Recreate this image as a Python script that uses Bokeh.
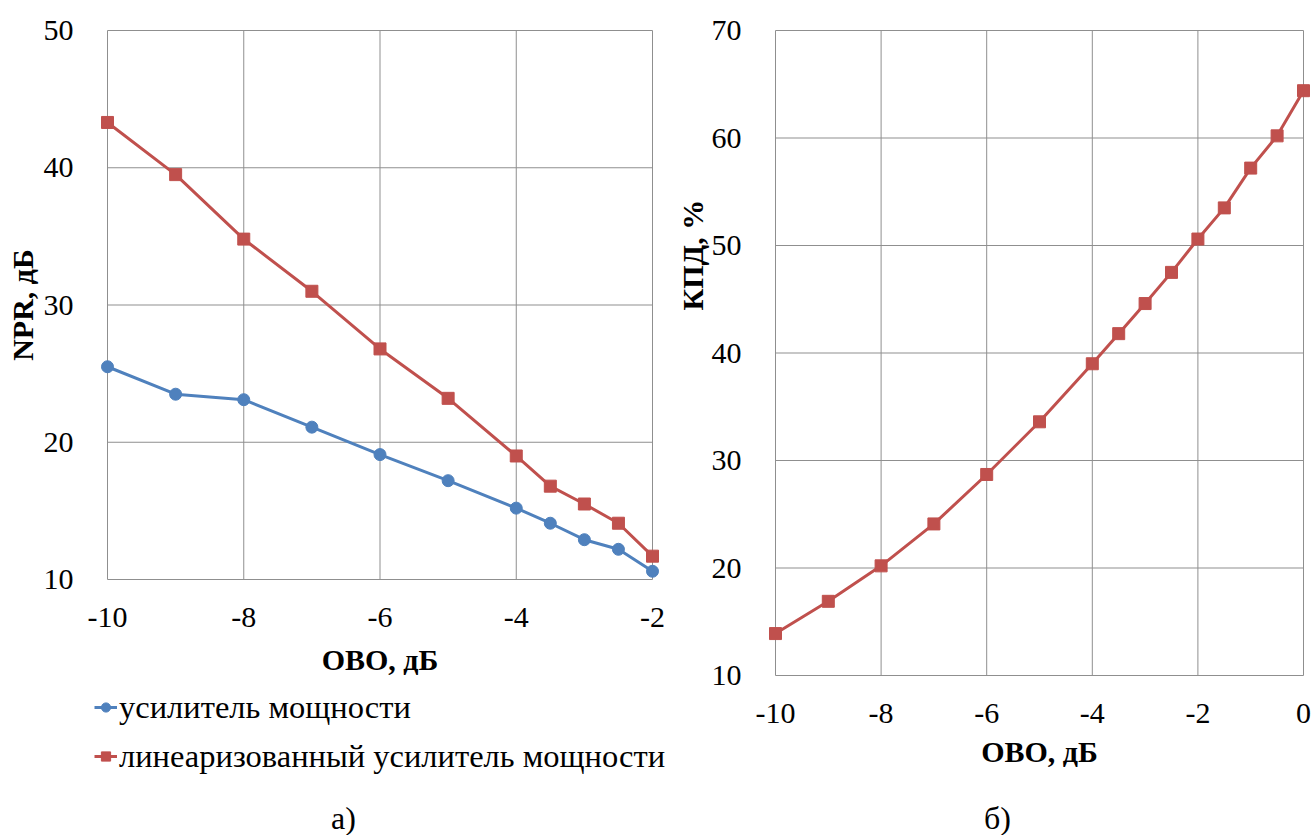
from bokeh.plotting import figure
from bokeh.models import Legend, LegendItem, Range1d, FixedTicker, Title, Label
from bokeh.layouts import row, column
from bokeh.embed import file_html
from bokeh.resources import INLINE

# ---- data ----
obo_a = [-10, -9, -8, -7, -6, -5, -4, -3.5, -3, -2.5, -2]
npr_pa = [25.5, 23.5, 23.1, 21.1, 19.1, 17.2, 15.2, 14.1, 12.9, 12.2, 10.6]
npr_lin = [43.3, 39.5, 34.8, 31.0, 26.8, 23.2, 19.0, 16.8, 15.5, 14.1, 11.7]
obo_b = [-10, -9, -8, -7, -6, -5, -4, -3.5, -3, -2.5, -2, -1.5, -1, -0.5, 0]
kpd = [13.9, 16.9, 20.2, 24.1, 28.7, 33.6, 39.0, 41.8, 44.6, 47.5, 50.6, 53.5, 57.2, 60.2, 64.4]

x_ticks_a = [-10, -8, -6, -4, -2]
y_ticks_a = [10, 20, 30, 40, 50]
x_ticks_b = [-10, -8, -6, -4, -2, 0]
y_ticks_b = [10, 20, 30, 40, 50, 60, 70]

label_pa = "усилитель мощности"
label_lin = "линеаризованный усилитель мощности"
x_title = "ОВО, дБ"
y_title_a = "NPR, дБ"
y_title_b = "КПД, %"
caption_a = "а)"
caption_b = "б)"

BLUE = "#4F81BD"
RED = "#C0504D"
GRID = "#8f8f8f"
FONT = "Liberation Serif"
PAD = 8  # px of free frame around the plot area so edge markers are not clipped


def make_fig(xt, yt, plot_w, plot_h, left, right, top, bottom):
    x0, x1 = xt[0], xt[-1]
    y0, y1 = yt[0], yt[-1]
    px = PAD * (x1 - x0) / plot_w
    py = PAD * (y1 - y0) / plot_h
    p = figure(frame_width=plot_w + 2 * PAD, frame_height=plot_h + 2 * PAD,
               output_backend="svg", toolbar_location=None,
               x_range=Range1d(x0 - px, x1 + px), y_range=Range1d(y0 - py, y1 + py),
               min_border_left=left - PAD, min_border_right=right - PAD,
               min_border_top=top - PAD, min_border_bottom=bottom)
    p.xaxis.ticker = FixedTicker(ticks=xt)
    p.yaxis.ticker = FixedTicker(ticks=yt)
    p.xaxis.major_label_overrides = {t: str(t) for t in xt}
    for ax in (p.xaxis[0], p.yaxis[0]):
        ax.major_label_text_font = FONT
        ax.major_label_text_font_size = "30px"
        ax.major_label_text_color = "black"
        ax.axis_label_text_font = FONT
        ax.axis_label_text_font_size = "30px"
        ax.axis_label_text_font_style = "bold"
        ax.axis_label_text_color = "black"
        ax.major_tick_line_color = None
        ax.minor_tick_line_color = None
        ax.axis_line_color = None
    p.xaxis.axis_label = x_title
    p.xaxis.major_label_standoff = 22 - PAD
    p.yaxis.major_label_standoff = 28 - PAD
    p.grid.visible = False
    p.outline_line_color = None
    p.background_fill_color = "white"
    p.border_fill_color = "white"
    # plot-area grid (end ticks give the plot-area border), drawn from the tick lists
    p.segment(x0=xt, x1=xt, y0=[y0] * len(xt), y1=[y1] * len(xt),
              line_color=GRID, line_width=1, level="underlay")
    p.segment(x0=[x0] * len(yt), x1=[x1] * len(yt), y0=yt, y1=yt,
              line_color=GRID, line_width=1, level="underlay")
    return p


def blank(w, h):
    p = figure(width=w, height=h, output_backend="svg", toolbar_location=None,
               x_axis_type=None, y_axis_type=None, min_border=0,
               min_border_left=0, min_border_right=0, min_border_top=0, min_border_bottom=0,
               x_range=Range1d(0, 1), y_range=Range1d(0, 1))
    p.outline_line_color = None
    p.grid.visible = False
    return p


# ---- left chart (a) ----
pa = make_fig(x_ticks_a, y_ticks_a, 545, 549, left=107, right=20, top=30, bottom=100)
pa.yaxis.axis_label = y_title_a
pa.yaxis.axis_label_standoff = 2
pa.xaxis.axis_label_standoff = 13

pa.line(obo_a, npr_pa, line_color=BLUE, line_width=3)
pa.scatter(obo_a, npr_pa, marker="circle", size=12, fill_color=BLUE, line_color=BLUE)
pa.line(obo_a, npr_lin, line_color=RED, line_width=3)
pa.scatter(obo_a, npr_lin, marker="square", size=12, fill_color=RED, line_color=RED)

# legend + caption strip under chart (a); its sample glyphs sit outside its view range
pleg = blank(672, 148)
g1 = pleg.line(x=[2, 3], y=[2, 3], line_color=BLUE, line_width=3)
m1 = pleg.scatter(x=[2], y=[2], marker="circle", size=12, fill_color=BLUE, line_color=BLUE)
g2 = pleg.line(x=[2, 3], y=[2, 3], line_color=RED, line_width=3)
m2 = pleg.scatter(x=[2], y=[2], marker="square", size=12, fill_color=RED, line_color=RED)
leg = Legend(items=[LegendItem(label=label_pa, renderers=[g1, m1]),
                    LegendItem(label=label_lin, renderers=[g2, m2])],
             location=(94, 60), orientation="vertical",
             label_text_font=FONT, label_text_font_size="32.5px", label_text_color="black",
             glyph_width=23, glyph_height=38, label_height=38, label_standoff=2,
             spacing=11, padding=0, margin=0, border_line_color=None,
             background_fill_alpha=0)
pleg.add_layout(leg)
pleg.add_layout(Label(x=343, y=18, x_units="screen", y_units="screen", text=caption_a,
                      text_font=FONT, text_font_size="32px", text_align="center",
                      text_baseline="middle", text_color="black"))

# ---- right chart (b) ----
pb = make_fig(x_ticks_b, y_ticks_b, 528, 645, left=103, right=11, top=30, bottom=100)
pb.yaxis.axis_label_standoff = 10
pb.xaxis.axis_label_standoff = 9

pb.line(obo_b, kpd, line_color=RED, line_width=3)
pb.scatter(obo_b, kpd, marker="square", size=12, fill_color=RED, line_color=RED)

pb.add_layout(Title(text=y_title_b, text_font=FONT, text_font_size="30px",
                    text_font_style="bold", text_color="black",
                    align="left", offset=373, standoff=0), "left")

pcap = blank(642, 52)
pcap.add_layout(Label(x=325, y=18, x_units="screen", y_units="screen", text=caption_b,
                      text_font=FONT, text_font_size="32px", text_align="center",
                      text_baseline="middle", text_color="black"))

layout = row(column(pa, row(pleg), spacing=0), column(pb, row(pcap), spacing=0), spacing=0)
open("out.html", "w").write(file_html(layout, INLINE))
